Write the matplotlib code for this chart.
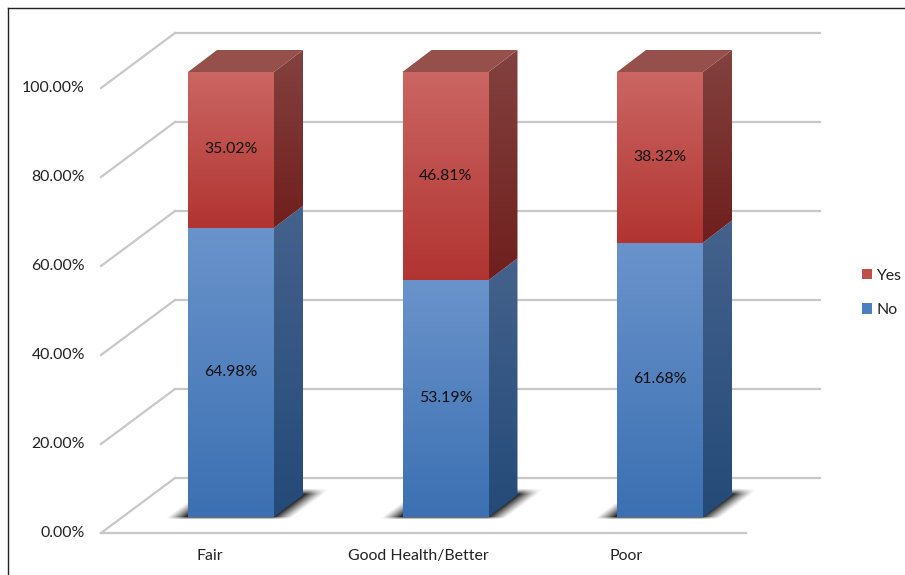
import numpy as np
import matplotlib
matplotlib.use('Agg')
import matplotlib.pyplot as plt
from matplotlib.colors import LinearSegmentedColormap
from matplotlib.lines import Line2D
from matplotlib.patches import Patch, Polygon

categories = ['Fair', 'Good Health/Better', 'Poor']
no_values = [64.98, 53.19, 61.68]
yes_values = [35.02, 46.81, 38.32]
ticks = [0, 20, 40, 60, 80, 100]

plt.rcParams['font.family'] = ['Lato', 'DejaVu Sans']

# pixel scale of the canvas, x is in category units, y in percent
W, H = 905, 575
px_x = 214.5
px_y = 4.45
x0_px, y0_px = 231, 517

bar_w = 86 / px_x
depth_x = 29 / px_x
depth_y = 22 / px_y
back_left = (175 - x0_px) / px_x
back_right = (820 - x0_px) / px_x
front_left = (101 - x0_px) / px_x
front_right = (746 - x0_px) / px_x
back_up = (y0_px - 478) / px_y
front_down = (y0_px - 533) / px_y
font = 11.4

fig = plt.figure(figsize=(W / 100, H / 100), dpi=100)
ax = fig.add_axes([0, 0, 1, 1])
ax.axis('off')
xlim = (-x0_px / px_x, (W - x0_px) / px_x)
ylim = ((y0_px - H) / px_y, y0_px / px_y)


def gradient(points, top, bottom, z):
    # vertical colour ramp clipped to the face outline
    pts = np.array(points)
    cmap = LinearSegmentedColormap.from_list('face', [top, bottom])
    ramp = np.linspace(0, 1, 256).reshape(-1, 1)
    im = ax.imshow(ramp, cmap=cmap, aspect='auto', zorder=z, interpolation='bilinear',
                   extent=(pts[:, 0].min(), pts[:, 0].max(), pts[:, 1].min(), pts[:, 1].max()))
    clip = Polygon(points, closed=True, transform=ax.transData, fc='none', ec='none')
    ax.add_patch(clip)
    im.set_clip_path(clip)


def segment(i, low, high, front_cols, side_cols, z):
    l, r = i - bar_w / 2, i + bar_w / 2
    gradient([(l, low), (r, low), (r, high), (l, high)], *front_cols, z + 0.2)
    gradient([(r, low), (r + depth_x, low + depth_y), (r + depth_x, high + depth_y), (r, high)],
             *side_cols, z + 0.1)


def floor_shadow(i):
    # blurred parallelogram under the bar, worked out in canvas pixels
    cx = x0_px + i * px_x
    xs = np.arange(cx - 75, cx + 105)
    ys = np.arange(y0_px - 34, y0_px + 6)
    gx, gy = np.meshgrid(xs, ys)
    u = gx - (y0_px - gy) * 29 / 22
    ramp = lambda d, w: np.clip(d / w, 0, 1) ** 1.2
    a = ramp(u - (cx - 64), 19) * ramp((cx + 62) - u, 19)
    a = a * ramp(y0_px + 3 - gy, 3) * ramp(gy - (y0_px - 29), 6)
    rgba = np.zeros(a.shape + (4,))
    rgba[..., 3] = a * 0.85
    ax.imshow(rgba, aspect='auto', zorder=2, interpolation='bilinear',
              extent=((xs[0] - x0_px) / px_x, (xs[-1] - x0_px) / px_x,
                      (y0_px - ys[-1]) / px_y, (y0_px - ys[0]) / px_y))


# back wall, side wall and floor lines
grid = '#c8c8c8'
for t in ticks:
    ax.plot([back_left, back_right], [t + back_up, t + back_up], color=grid, lw=1.6, zorder=1)
    ax.plot([front_left, back_left], [t + front_down, t + back_up], color=grid, lw=1.6, zorder=1)
ax.plot([front_left, front_right], [front_down, front_down], color=grid, lw=1.6, zorder=1)

blue_front = ('#6a93cb', '#3b70b2')
blue_side = ('#44628c', '#244a78')
red_front = ('#cb6663', '#b13431')
red_side = ('#83423f', '#6f1f1d')

for i, (no, yes) in enumerate(zip(no_values, yes_values)):
    l, r = i - bar_w / 2, i + bar_w / 2
    floor_shadow(i)

    segment(i, 0, no, blue_front, blue_side, 3)
    segment(i, no, no + yes, red_front, red_side, 3)

    top = no + yes
    ax.add_patch(Polygon([(l, top), (r, top), (r + depth_x, top + depth_y), (l + depth_x, top + depth_y)],
                         closed=True, fc='#96504c', ec='none', zorder=3.3))

    ax.text(i, no / 2 + 0.2, f'{no:.2f}%', ha='center', va='center', fontsize=font,
            color='#111111', zorder=5)
    ax.text(i, no + yes / 2 + 0.1, f'{yes:.2f}%', ha='center', va='center', fontsize=font,
            color='#111111', zorder=5)
    ax.text((210 + i * 208 - x0_px) / px_x, -8.7, categories[i], ha='center', va='center',
            fontsize=font, color='#222222')

for t in ticks:
    ax.text((85 - x0_px) / px_x, t - 3.6, f'{t:.2f}%', ha='right', va='center', fontsize=font, color='#222222')

handles = [Patch(fc='#c24e4b', label='Yes'), Patch(fc='#4a7fc0', label='No')]
ax.legend(handles=handles, loc='center left', frameon=False, fontsize=font, labelcolor='#222222',
          bbox_to_anchor=((862 - x0_px) / px_x, (y0_px - 293) / px_y), bbox_transform=ax.transData,
          borderpad=0, borderaxespad=0, handlelength=0.6, handleheight=0.65, handletextpad=0.3,
          labelspacing=1.3)

ax.set_xlim(xlim)
ax.set_ylim(ylim)

# thin frame along the top and left edges
fig.add_artist(Line2D([7.5 / W, 7.5 / W], [0, 1 - 8 / H], color='#222222', lw=1))
fig.add_artist(Line2D([7.5 / W, 1], [1 - 8 / H, 1 - 8 / H], color='#222222', lw=1))

fig.savefig('out.png', dpi=100)
